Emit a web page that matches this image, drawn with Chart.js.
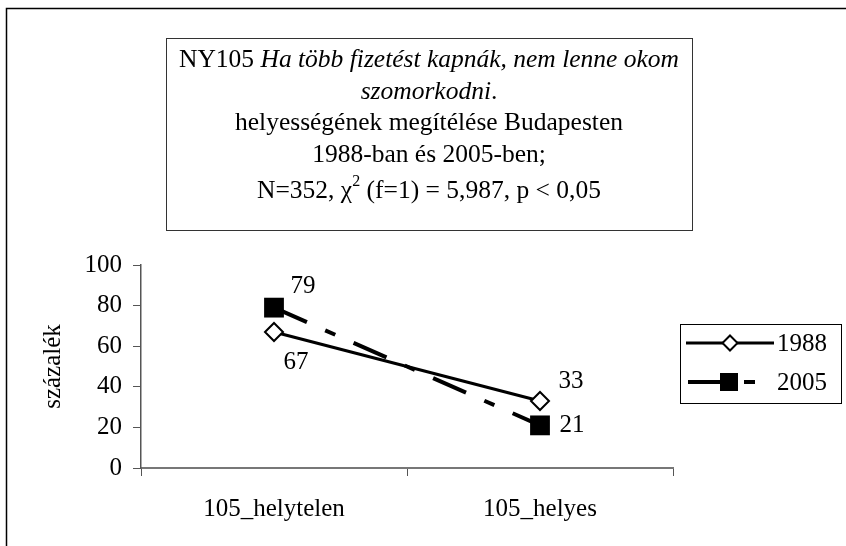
<!DOCTYPE html>
<html>
<head>
<meta charset="utf-8">
<script src="https://cdn.jsdelivr.net/npm/chart.js@4.4.1/dist/chart.umd.min.js"></script>
<style>
  html, body { margin: 0; padding: 0; background: #fff; }
  #wrap { position: relative; width: 846px; height: 546px; }
</style>
</head>
<body>
<div id="wrap"><canvas id="c" width="846" height="546"></canvas></div>
<script>
const categories = ['105_helytelen', '105_helyes'];
const series1988 = [67, 33];
const series2005 = [79, 21];
const seriesNames = ['1988', '2005'];
const yTickValues = [0, 20, 40, 60, 80, 100];
const yAxisTitle = 'százalék';

const FONT = '"Liberation Serif", "Times New Roman", serif';
const CHART_FONT_SIZE = 25;

// label offsets relative to point (dx, dy)
const labelOffsets = [
  [[22, 30], [31, -20]],
  [[29, -21], [32, 0]]
];

const decorPlugin = {
  id: 'decor',
  beforeDraw(chart) {
    const ctx = chart.ctx;
    ctx.save();
    ctx.fillStyle = '#fff';
    ctx.fillRect(0, 0, chart.width, chart.height);
    ctx.strokeStyle = '#000';
    ctx.lineWidth = 1.5;
    ctx.strokeRect(6.5, 8.5, 1000, 1000);
    ctx.restore();
  },
  afterDraw(chart) {
    const ctx = chart.ctx;
    ctx.save();
    // title box
    ctx.strokeStyle = '#333';
    ctx.lineWidth = 1;
    ctx.strokeRect(166.5, 38.5, 526, 192);
    ctx.fillStyle = '#000';
    ctx.textBaseline = 'alphabetic';
    const cx = 429;
    const TS = 25.5;
    const normal = TS + 'px ' + FONT;
    const italic = 'italic ' + TS + 'px ' + FONT;
    function drawSegments(segs, y) {
      let total = 0;
      segs.forEach(s => { ctx.font = s.f; s.w = ctx.measureText(s.t).width; total += s.w; });
      let x = cx - total / 2;
      segs.forEach(s => {
        ctx.font = s.f;
        ctx.textAlign = 'left';
        ctx.fillText(s.t, x, y + (s.dy || 0));
        x += s.w;
      });
    }
    drawSegments([{t: 'NY105 ', f: normal}, {t: 'Ha több fizetést kapnák, nem lenne okom', f: italic}], 67);
    drawSegments([{t: 'szomorkodni', f: italic}, {t: '.', f: normal}], 98.5);
    drawSegments([{t: 'helyességének megítélése Budapesten', f: normal}], 130);
    drawSegments([{t: '1988-ban és 2005-ben;', f: normal}], 162);
    drawSegments([
      {t: 'N=352, χ', f: normal},
      {t: '2', f: '16px ' + FONT, dy: -12},
      {t: ' (f=1) = 5,987, p < 0,05', f: normal}
    ], 198);

    // data labels
    ctx.font = CHART_FONT_SIZE + 'px ' + FONT;
    ctx.textAlign = 'center';
    ctx.textBaseline = 'middle';
    chart.data.datasets.forEach((ds, di) => {
      const meta = chart.getDatasetMeta(di);
      meta.data.forEach((pt, i) => {
        const off = labelOffsets[di][i];
        ctx.fillText(String(ds.data[i]), pt.x + off[0], pt.y + off[1]);
      });
    });

    // legend
    ctx.strokeStyle = '#000';
    ctx.lineWidth = 1;
    ctx.strokeRect(680.5, 324.5, 161, 79);
    const rows = [
      {y: 343, ds: chart.data.datasets[0]},
      {y: 382, ds: chart.data.datasets[1]}
    ];
    rows.forEach((r, k) => {
      const ds = r.ds;
      ctx.save();
      ctx.strokeStyle = '#000';
      ctx.lineWidth = ds.borderWidth;
      if (k === 0) {
        ctx.beginPath();
        ctx.moveTo(686, r.y);
        ctx.lineTo(774, r.y);
        ctx.stroke();
        const mx = 730;
        ctx.fillStyle = '#fff';
        ctx.lineWidth = 2;
        ctx.beginPath();
        ctx.moveTo(mx, r.y - 7.5);
        ctx.lineTo(mx + 7.5, r.y);
        ctx.lineTo(mx, r.y + 7.5);
        ctx.lineTo(mx - 7.5, r.y);
        ctx.closePath();
        ctx.fill();
        ctx.stroke();
      } else {
        ctx.beginPath();
        ctx.moveTo(688, r.y);
        ctx.lineTo(722, r.y);
        ctx.moveTo(744, r.y);
        ctx.lineTo(755, r.y);
        ctx.stroke();
        ctx.fillStyle = '#000';
        ctx.fillRect(720, r.y - 9, 18, 18);
      }
      ctx.restore();
      ctx.fillStyle = '#000';
      ctx.font = CHART_FONT_SIZE + 'px ' + FONT;
      ctx.textAlign = 'left';
      ctx.textBaseline = 'middle';
      ctx.fillText(seriesNames[k], 777, r.y + 1);
    });
    ctx.restore();
  }
};

new Chart(document.getElementById('c'), {
  type: 'line',
  data: {
    labels: categories,
    datasets: [
      {
        label: seriesNames[0],
        data: series1988,
        borderColor: '#000',
        borderWidth: 3,
        pointStyle: 'rectRot',
        pointRadius: 9,
        pointBackgroundColor: '#fff',
        pointBorderColor: '#000',
        pointBorderWidth: 2,
        tension: 0
      },
      {
        label: seriesNames[1],
        data: series2005,
        borderColor: '#000',
        borderWidth: 4,
        borderDash: [36, 20, 11, 20],
        pointStyle: 'rect',
        pointRadius: 14,
        pointBackgroundColor: '#000',
        pointBorderColor: '#000',
        pointBorderWidth: 0,
        tension: 0
      }
    ]
  },
  options: {
    responsive: false,
    animation: false,
    devicePixelRatio: 1,
    layout: { padding: { left: 0, top: 265, right: 173, bottom: 0 } },
    plugins: {
      legend: { display: false },
      title: { display: false },
      tooltip: { enabled: false }
    },
    scales: {
      x: {
        type: 'category',
        offset: true,
        grid: { display: true, offset: true, drawOnChartArea: false, drawTicks: true, tickLength: 8, color: '#555', lineWidth: 1 },
        border: { display: true, color: '#777', width: 2 },
        ticks: { color: '#000', font: { family: FONT, size: CHART_FONT_SIZE }, padding: 18, maxRotation: 0 },
        afterFit(scale) { scale.height = 78; }
      },
      y: {
        min: 0,
        max: 100,
        afterBuildTicks(scale) { scale.ticks = yTickValues.map(v => ({ value: v })); },
        grid: { display: true, drawOnChartArea: false, drawTicks: true, tickLength: 8, color: '#555', lineWidth: 1 },
        border: { display: true, color: '#555', width: 1.5 },
        ticks: { color: '#000', font: { family: FONT, size: CHART_FONT_SIZE }, padding: 11 },
        title: { display: true, text: yAxisTitle, color: '#000', font: { family: FONT, size: 25 }, padding: { top: 38, bottom: 0 } },
        afterFit(scale) { scale.width = 141; }
      }
    }
  },
  plugins: [decorPlugin]
});
</script>
</body>
</html>
